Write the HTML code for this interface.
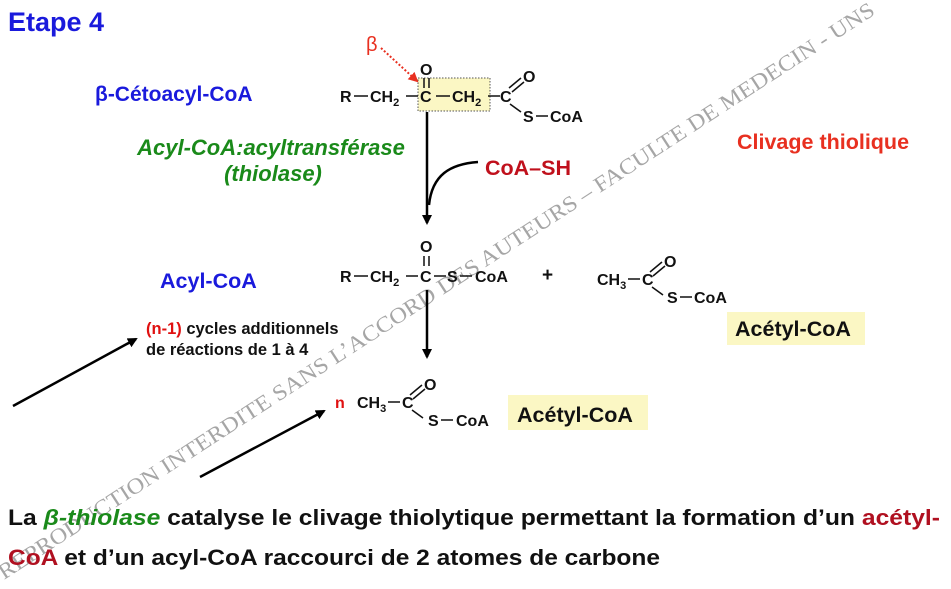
<!DOCTYPE html>
<html><head><meta charset="utf-8"><style>
html,body{margin:0;padding:0;background:#fff;width:951px;height:589px;overflow:hidden}
svg{display:block}
.b{font-weight:bold}
.m{font-size:16px;fill:#111}
.s{font-size:11px}
</style></head><body>
<svg width="951" height="589" viewBox="0 0 951 589" xmlns="http://www.w3.org/2000/svg" font-family="Liberation Sans, Arial, sans-serif">
<defs>
<marker id="ah" markerWidth="10" markerHeight="10" refX="8" refY="5" orient="auto" markerUnits="userSpaceOnUse"><path d="M0,0 L10,5 L0,10 Z" fill="#000"/></marker>
<marker id="rh" markerWidth="10" markerHeight="10" refX="8" refY="5" orient="auto" markerUnits="userSpaceOnUse"><path d="M0,0 L10,5 L0,10 Z" fill="#e83020"/></marker>
</defs>
<!-- watermark -->
<text x="0" y="0" style="font-family:'Liberation Serif',serif" font-size="22" fill="#888" fill-opacity="0.75" transform="translate(4,580) rotate(-33)" textLength="1040" lengthAdjust="spacingAndGlyphs">REPRODUCTION INTERDITE SANS L’ACCORD DES AUTEURS – FACULTE DE MEDECIN - UNS</text>

<text x="8" y="31" font-size="27" class="b" fill="#1a1adc">Etape 4</text>
<text x="95" y="101" font-size="21" class="b" fill="#1a1adc">β-Cétoacyl-CoA</text>
<text x="271" y="155" font-size="22" class="b" font-style="italic" fill="#1a8a1a" text-anchor="middle">Acyl-CoA:acyltransférase</text>
<text x="273" y="181" font-size="22" class="b" font-style="italic" fill="#1a8a1a" text-anchor="middle">(thiolase)</text>
<text x="737" y="149" font-size="21.5" class="b" fill="#e83020">Clivage thiolique</text>

<!-- top molecule -->
<rect x="418" y="78" width="72" height="33" fill="#fbf7c4" stroke="#555" stroke-width="1" stroke-dasharray="1.5,1.5"/>
<text x="366" y="51" font-size="20" fill="#e83020">β</text>
<line x1="381" y1="48" x2="417" y2="81" stroke="#e83020" stroke-width="2" stroke-dasharray="2,2" marker-end="url(#rh)"/>
<g class="b m">
<text x="340" y="102">R</text>
<line x1="354" y1="96" x2="368" y2="96" stroke="#111" stroke-width="1.5"/>
<text x="370" y="102">CH<tspan class="s" dy="4">2</tspan></text>
<line x1="406" y1="96" x2="418" y2="96" stroke="#111" stroke-width="1.5"/>
<text x="420" y="102">C</text>
<text x="420" y="75">O</text>
<line x1="424" y1="78" x2="424" y2="88" stroke="#111" stroke-width="1.5"/>
<line x1="429" y1="78" x2="429" y2="88" stroke="#111" stroke-width="1.5"/>
<line x1="436" y1="96" x2="450" y2="96" stroke="#111" stroke-width="1.5"/>
<text x="452" y="102">CH<tspan class="s" dy="4">2</tspan></text>
<line x1="488" y1="96" x2="500" y2="96" stroke="#111" stroke-width="1.5"/>
<text x="500" y="102">C</text>
<text x="523" y="82">O</text>
<line x1="509" y1="88" x2="521" y2="78" stroke="#111" stroke-width="1.5"/>
<line x1="512" y1="92" x2="524" y2="82" stroke="#111" stroke-width="1.5"/>
<line x1="510" y1="104" x2="521" y2="112" stroke="#111" stroke-width="1.5"/>
<text x="523" y="122">S</text>
<line x1="536" y1="116" x2="548" y2="116" stroke="#111" stroke-width="1.5"/>
<text x="550" y="122">CoA</text>
</g>
<line x1="427" y1="112" x2="427" y2="223" stroke="#000" stroke-width="2.5" marker-end="url(#ah)"/>
<path d="M478,162 C450,164 432,175 429,205" fill="none" stroke="#000" stroke-width="2.5"/>
<text x="485" y="175" font-size="21.5" class="b" fill="#c0101c">CoA–SH</text>

<!-- second row -->
<text x="160" y="288" font-size="21.5" class="b" fill="#1a1adc">Acyl-CoA</text>
<g class="b m">
<text x="340" y="282">R</text>
<line x1="354" y1="276" x2="368" y2="276" stroke="#111" stroke-width="1.5"/>
<text x="370" y="282">CH<tspan class="s" dy="4">2</tspan></text>
<line x1="406" y1="276" x2="418" y2="276" stroke="#111" stroke-width="1.5"/>
<text x="420" y="282">C</text>
<text x="420" y="252">O</text>
<line x1="424" y1="256" x2="424" y2="266" stroke="#111" stroke-width="1.5"/>
<line x1="429" y1="256" x2="429" y2="266" stroke="#111" stroke-width="1.5"/>
<line x1="434" y1="276" x2="446" y2="276" stroke="#111" stroke-width="1.5"/>
<text x="447" y="282">S</text>
<line x1="460" y1="276" x2="472" y2="276" stroke="#111" stroke-width="1.5"/>
<text x="475" y="282">CoA</text>
<text x="542" y="281" font-size="19">+</text>
<text x="597" y="285">CH<tspan class="s" dy="4">3</tspan></text>
<line x1="628" y1="279" x2="640" y2="279" stroke="#111" stroke-width="1.5"/>
<text x="642" y="285">C</text>
<text x="664" y="267">O</text>
<line x1="650" y1="272" x2="662" y2="262" stroke="#111" stroke-width="1.5"/>
<line x1="653" y1="276" x2="665" y2="266" stroke="#111" stroke-width="1.5"/>
<line x1="652" y1="287" x2="663" y2="295" stroke="#111" stroke-width="1.5"/>
<text x="667" y="303">S</text>
<line x1="680" y1="297" x2="692" y2="297" stroke="#111" stroke-width="1.5"/>
<text x="694" y="303">CoA</text>
</g>
<rect x="727" y="312" width="138" height="33" fill="#fbf7c4"/>
<text x="735" y="336" font-size="21.5" class="b" fill="#111">Acétyl-CoA</text>
<line x1="427" y1="290" x2="427" y2="357" stroke="#000" stroke-width="2.5" marker-end="url(#ah)"/>

<text x="146" y="334" font-size="16.5" class="b"><tspan fill="#e01010">(n-1)</tspan><tspan fill="#111"> cycles additionnels</tspan></text>
<text x="146" y="355" font-size="16.5" class="b" fill="#111">de réactions de 1 à 4</text>
<line x1="13" y1="406" x2="136" y2="339" stroke="#000" stroke-width="2.5" marker-end="url(#ah)"/>
<line x1="200" y1="477" x2="324" y2="411" stroke="#000" stroke-width="2.5" marker-end="url(#ah)"/>

<!-- bottom molecule -->
<g class="b m">
<text x="335" y="408" fill="#e01010">n</text>
<text x="357" y="408">CH<tspan class="s" dy="4">3</tspan></text>
<line x1="388" y1="402" x2="400" y2="402" stroke="#111" stroke-width="1.5"/>
<text x="402" y="408">C</text>
<text x="424" y="390">O</text>
<line x1="410" y1="395" x2="422" y2="385" stroke="#111" stroke-width="1.5"/>
<line x1="413" y1="399" x2="425" y2="389" stroke="#111" stroke-width="1.5"/>
<line x1="412" y1="410" x2="423" y2="418" stroke="#111" stroke-width="1.5"/>
<text x="428" y="426">S</text>
<line x1="441" y1="420" x2="453" y2="420" stroke="#111" stroke-width="1.5"/>
<text x="456" y="426">CoA</text>
</g>
<rect x="508" y="395" width="140" height="35" fill="#fbf7c4"/>
<text x="517" y="422" font-size="21.5" class="b" fill="#111">Acétyl-CoA</text>

<!-- bottom text -->
<text x="8" y="525" font-size="22" class="b" fill="#111" textLength="932" lengthAdjust="spacingAndGlyphs">La <tspan fill="#1a8a1a" font-style="italic">β-thiolase</tspan> catalyse le clivage thiolytique permettant la formation d’un <tspan fill="#b01020">acétyl-</tspan></text>
<text x="8" y="565" font-size="22" class="b" fill="#111" textLength="652" lengthAdjust="spacingAndGlyphs"><tspan fill="#b01020">CoA</tspan> et d’un acyl-CoA raccourci de 2 atomes de carbone</text>
</svg>
</body></html>
